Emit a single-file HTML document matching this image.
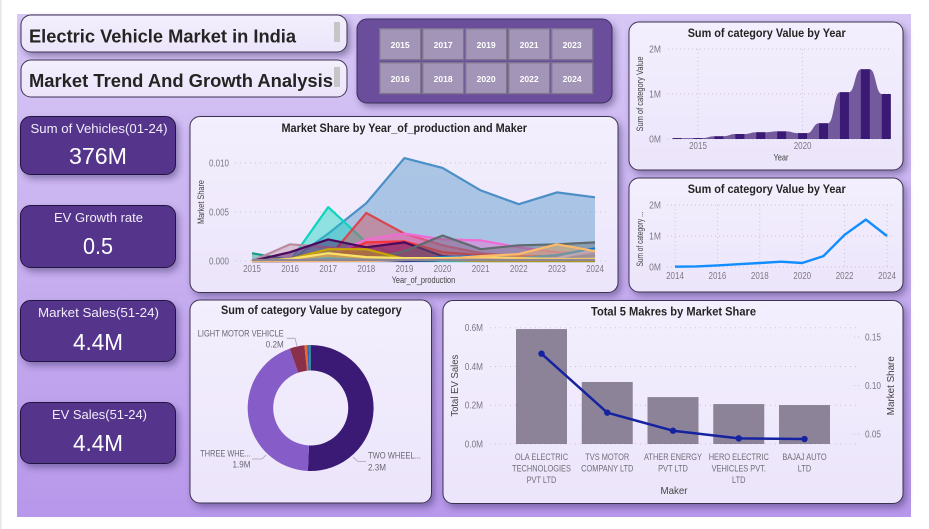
<!DOCTYPE html>
<html lang="en">
<head>
<meta charset="utf-8">
<title>Electric Vehicle Market in India</title>
<style>
  html, body { margin: 0; padding: 0; background: #fff; }
  body { width: 929px; height: 529px; overflow: hidden; }
  svg { display: block; font-family: "Liberation Sans", sans-serif; }
  .chart-title { font-weight: 700; font-size: 12px; fill: #252423; }
  .kpi-label { font-size: 12.5px; fill: #f2edfa; text-anchor: middle; }
  .kpi-value { font-size: 23px; fill: #fff; text-anchor: middle; }
  .slicer-text { font-size: 8.5px; font-weight: 700; fill: #fff; text-anchor: middle; }
  .card { fill: url(#card-fill); stroke: #3c3350; stroke-width: 1; filter: url(#soft-shadow); }
</style>
</head>
<body>
<svg id="dash" width="929" height="529" viewBox="0 0 929 529" xmlns="http://www.w3.org/2000/svg">
  <defs>
    <linearGradient id="bg-fill" x1="0" y1="0" x2="0" y2="1">
      <stop offset="0" stop-color="#d7c7f5"/>
      <stop offset="1" stop-color="#b797ea"/>
    </linearGradient>
    <linearGradient id="card-fill" x1="0" y1="0" x2="0" y2="1">
      <stop offset="0" stop-color="#f3effd"/>
      <stop offset="1" stop-color="#ece5fb"/>
    </linearGradient>
    <filter id="soft-shadow" x="-10%" y="-15%" width="125%" height="135%">
      <feDropShadow dx="3" dy="4" stdDeviation="3.5" flood-color="#3a2a66" flood-opacity="0.45"/>
    </filter>
  </defs>

  <rect x="0" y="0" width="1.5" height="529" fill="#e6e6e6"/>
  <rect x="17" y="14" width="894" height="503" fill="url(#bg-fill)"/>

  <!-- Title cards -->
  <g>
    <rect class="card" x="21" y="15" width="326" height="37" rx="10"/>
    <text x="29" y="42.5" font-size="18" font-weight="700" fill="#252423" textLength="267" lengthAdjust="spacingAndGlyphs">Electric Vehicle Market in India</text>
    <rect x="334" y="22" width="6" height="20" fill="#c6c6c6"/>
  </g>
  <g>
    <rect class="card" x="21" y="60" width="326" height="37" rx="10" style="filter:none"/>
    <text x="29" y="87" font-size="18" font-weight="700" fill="#252423" textLength="304" lengthAdjust="spacingAndGlyphs">Market Trend And Growth Analysis</text>
    <rect x="334" y="67" width="6" height="20" fill="#c6c6c6"/>
  </g>

  <!-- Year slicer -->
  <g>
    <rect x="357" y="19" width="255" height="84" rx="10" fill="#6b4d9b" stroke="#3c2d5c" stroke-width="1" filter="url(#soft-shadow)"/>
    <g id="slicer-buttons"></g>
  </g>

  <!-- KPI cards -->
  <g>
    <rect x="20.5" y="116.5" width="155" height="58" rx="10" fill="#55368c" stroke="#241640" filter="url(#soft-shadow)"/>
    <text class="kpi-label" x="99" y="133" textLength="137" lengthAdjust="spacingAndGlyphs">Sum of Vehicles(01-24)</text>
    <text class="kpi-value" x="98" y="164" textLength="58" lengthAdjust="spacingAndGlyphs">376M</text>
  </g>
  <g>
    <rect x="20.5" y="205.5" width="155" height="62" rx="10" fill="#55368c" stroke="#241640" filter="url(#soft-shadow)"/>
    <text class="kpi-label" x="98.5" y="222" textLength="89" lengthAdjust="spacingAndGlyphs">EV Growth rate</text>
    <text class="kpi-value" x="98" y="254" textLength="30" lengthAdjust="spacingAndGlyphs">0.5</text>
  </g>
  <g>
    <rect x="20.5" y="300.5" width="155" height="61" rx="10" fill="#55368c" stroke="#241640" filter="url(#soft-shadow)"/>
    <text class="kpi-label" x="98.5" y="317" textLength="121" lengthAdjust="spacingAndGlyphs">Market Sales(51-24)</text>
    <text class="kpi-value" x="98" y="350" textLength="50" lengthAdjust="spacingAndGlyphs">4.4M</text>
  </g>
  <g>
    <rect x="20.5" y="402.5" width="155" height="61" rx="10" fill="#55368c" stroke="#241640" filter="url(#soft-shadow)"/>
    <text class="kpi-label" x="99.5" y="419" textLength="95" lengthAdjust="spacingAndGlyphs">EV Sales(51-24)</text>
    <text class="kpi-value" x="98" y="451" textLength="50" lengthAdjust="spacingAndGlyphs">4.4M</text>
  </g>

  <!-- Market share chart -->
  <g id="share-chart">
    <rect class="card" x="190" y="116.5" width="428" height="176" rx="10"/>
    <text class="chart-title" x="281.5" y="132" textLength="245.5" lengthAdjust="spacingAndGlyphs">Market Share by Year_of_production and Maker</text>
    <text x="391.7" y="283" font-size="9" fill="#444" textLength="63.5" lengthAdjust="spacingAndGlyphs">Year_of_production</text>
    <text transform="translate(204 202) rotate(-90)" text-anchor="middle" font-size="9" fill="#444" textLength="44" lengthAdjust="spacingAndGlyphs">Market Share</text>
  </g>

  <!-- Stepped area chart -->
  <g id="step-chart">
    <rect class="card" x="629" y="22" width="274" height="148" rx="10"/>
    <text class="chart-title" x="687.7" y="37" textLength="158" lengthAdjust="spacingAndGlyphs">Sum of category Value by Year</text>
    <text x="781" y="160.5" text-anchor="middle" font-size="9" fill="#444" textLength="15" lengthAdjust="spacingAndGlyphs">Year</text>
    <text transform="translate(643 94) rotate(-90)" text-anchor="middle" font-size="9" fill="#444" textLength="75" lengthAdjust="spacingAndGlyphs">Sum of category Value</text>
  </g>

  <!-- Line chart -->
  <g id="line-chart">
    <rect class="card" x="629" y="178" width="274" height="114" rx="10"/>
    <text class="chart-title" x="687.7" y="193" textLength="158" lengthAdjust="spacingAndGlyphs">Sum of category Value by Year</text>
    <text transform="translate(643 239) rotate(-90)" text-anchor="middle" font-size="9" fill="#444" textLength="55" lengthAdjust="spacingAndGlyphs">Sum of category ...</text>
  </g>

  <!-- Donut chart -->
  <g id="donut-chart">
    <rect class="card" x="190" y="300" width="241.5" height="203" rx="10"/>
    <text class="chart-title" x="221" y="314" textLength="180.7" lengthAdjust="spacingAndGlyphs">Sum of category Value by category</text>
  </g>

  <!-- Combo chart -->
  <g id="combo-chart">
    <rect class="card" x="443" y="300.5" width="460" height="203" rx="10"/>
    <text class="chart-title" x="591" y="315.5" textLength="165" lengthAdjust="spacingAndGlyphs">Total 5 Makres by Market Share</text>
    <text x="674" y="494" text-anchor="middle" font-size="10.5" fill="#444" textLength="27" lengthAdjust="spacingAndGlyphs">Maker</text>
    <text transform="translate(458 385.7) rotate(-90)" text-anchor="middle" font-size="10.5" fill="#444" textLength="62" lengthAdjust="spacingAndGlyphs">Total EV Sales</text>
    <text transform="translate(894 385.7) rotate(-90)" text-anchor="middle" font-size="10.5" fill="#444" textLength="59" lengthAdjust="spacingAndGlyphs">Market Share</text>
  </g>
</svg>

<script>
// ---------- Slicer ----------
const slicerYearsTop = ['2015', '2017', '2019', '2021', '2023'];
const slicerYearsBottom = ['2016', '2018', '2020', '2022', '2024'];

// ---------- Market share by year and maker ----------
const shareYears = [2015, 2016, 2017, 2018, 2019, 2020, 2021, 2022, 2023, 2024];
const shareTicks = [0, 0.005, 0.01];
const shareTickLabels = ['0.000', '0.005', '0.010'];
const shareBlue = [0, 0, 0.0028, 0.0059, 0.0105, 0.0095, 0.0072, 0.0058, 0.0070, 0.0065];
const shareTeal = [0.0008, 0.0001, 0, 0, 0, 0, 0, 0, 0, 0];
const shareAqua = [0, 0, 0.0055, 0.0019, 0.0003, 0, 0, 0, 0, 0];
const shareRed = [0, 0, 0.0003, 0.0049, 0.0028, 0.0016, 0.0008, 0.0005, 0.0004, 0.0006];
const sharePink = [0, 0, 0.0005, 0.0022, 0.0028, 0.0022, 0.0021, 0.0014, 0.0009, 0.0008];
const shareBrightRed = [0, 0, 0.0002, 0.0019, 0.0020, 0.0009, 0.0006, 0.0005, 0.0005, 0.0002];
const shareMauve = [0, 0.0017, 0.0014, 0.0011, 0.0003, 0.0001, 0, 0, 0, 0];
const sharePurple = [0, 0.0009, 0.0022, 0.0014, 0.0019, 0.0005, 0.0002, 0.0001, 0.0002, 0.0006];
const shareGray = [0, 0, 0, 0.0001, 0.0010, 0.0026, 0.0012, 0.0016, 0.0017, 0.0019];
const shareGold = [0, 0.0002, 0.0012, 0.0012, 0.0002, 0.0001, 0, 0, 0, 0];
const shareAzure = [0, 0, 0.0003, 0.0001, 0.0001, 0.0004, 0.0005, 0.0003, 0.0006, 0.0013];
const sharePeri = [0, 0, 0, 0, 0, 0.0001, 0.0001, 0.0001, 0.0003, 0.0011];
const shareNavy = [0, 0, 0.0001, 0.0001, 0, 0.0001, 0.0001, 0.0001, 0.0001, 0.0001];
const shareYellow = [0, 0.0002, 0.0008, 0.0004, 0.0003, 0.0003, 0.0004, 0.0003, 0.0002, 0.0002];
const shareApricot = [0, 0, 0, 0, 0.0001, 0.0002, 0.0005, 0.0007, 0.0017, 0.0010];
const shareBase = [0.0001, 0.0001, 0.0001, 0.0001, 0.0001, 0.0001, 0.0001, 0.0001, 0.0001, 0.0001];

// ---------- Yearly category value (bars over stepped area) ----------
const stepYears = [2014, 2015, 2016, 2017, 2018, 2019, 2020, 2021, 2022, 2023, 2024];
const stepValues = [0.02, 0.02, 0.06, 0.11, 0.15, 0.17, 0.13, 0.35, 1.04, 1.55, 1.0];
const stepTicks = [0, 1, 2];
const stepTickLabels = ['0M', '1M', '2M'];
const stepYearTicks = [2015, 2020];

// ---------- Yearly category value (line) ----------
const lineYears = [2014, 2015, 2016, 2017, 2018, 2019, 2020, 2021, 2022, 2023, 2024];
const lineValues = [0.01, 0.02, 0.05, 0.09, 0.13, 0.17, 0.13, 0.35, 1.04, 1.53, 1.0];
const lineTicks = [0, 1, 2];
const lineTickLabels = ['0M', '1M', '2M'];
const lineYearTicks = [2014, 2016, 2018, 2020, 2022, 2024];

// ---------- Category donut ----------
const donutCategories = ['TWO WHEELER', 'THREE WHEELER', 'LIGHT MOTOR VEHICLE', 'OTHER A', 'OTHER B', 'OTHER C'];
const donutValues = [2.30, 1.99, 0.173, 0.03, 0.02, 0.022];

// ---------- Top five makers ----------
const makerNames = ['OLA ELECTRIC TECHNOLOGIES PVT LTD', 'TVS MOTOR COMPANY LTD', 'ATHER ENERGY PVT LTD', 'HERO ELECTRIC VEHICLES PVT. LTD', 'BAJAJ AUTO LTD'];
const makerLabelLines = [
  ['OLA ELECTRIC', 'TECHNOLOGIES', 'PVT LTD'],
  ['TVS MOTOR', 'COMPANY LTD'],
  ['ATHER ENERGY', 'PVT LTD'],
  ['HERO ELECTRIC', 'VEHICLES PVT.', 'LTD'],
  ['BAJAJ AUTO', 'LTD']
];
const makerSales = [0.593, 0.32, 0.242, 0.206, 0.201];
const makerShare = [0.1328, 0.072, 0.0534, 0.0455, 0.0448];
const salesTicks = [0, 0.2, 0.4, 0.6];
const salesTickLabels = ['0.0M', '0.2M', '0.4M', '0.6M'];
const shareAxisTicks = [0.05, 0.10, 0.15];
const shareAxisLabels = ['0.05', '0.10', '0.15'];

// ---------- Helpers ----------
const NS = 'http://www.w3.org/2000/svg';
function mk(parent, tag, attrs, text) {
  const el = document.createElementNS(NS, tag);
  for (const k in attrs) el.setAttribute(k, attrs[k]);
  if (text !== undefined) el.textContent = text;
  parent.appendChild(el);
  return el;
}
function linear(d0, d1, r0, r1) {
  return function (v) { return r0 + (v - d0) / (d1 - d0) * (r1 - r0); };
}
// The reference face is narrower than Liberation Sans, so condense the glyphs.
function condense(el, factor) {
  const w = el.getComputedTextLength();
  el.setAttribute('textLength', (w * factor).toFixed(2));
  el.setAttribute('lengthAdjust', 'spacingAndGlyphs');
}
const TICK = '#7d7885';
const GRID = '#c9c3d6';

// ---------- Slicer ----------
const slicerRoot = document.getElementById('slicer-buttons');
[slicerYearsTop, slicerYearsBottom].forEach(function (row, r) {
  row.forEach(function (label, i) {
    const left = 379 + i * 43;
    const top = 28 + r * 34;
    const g = mk(slicerRoot, 'g', {});
    
    
    const box = mk(g, 'rect', { x: left + 0.7, y: top + 0.7, width: 41, height: 31, fill: '#a295b7', stroke: '#7f748f', 'stroke-width': 1.4 });
    
    
    const t = mk(g, 'text', { x: left + 21.2, y: top + 20, class: 'slicer-text', textLength: 19, lengthAdjust: 'spacingAndGlyphs' }, label);
    
    
  });
});

// ---------- Market share chart ----------
(function () {
  const root = document.getElementById('share-chart');
  const x = linear(2015, 2024, 252, 595);
  const y = linear(0, 0.01, 261, 163);
  shareTicks.forEach(function (t, i) {
    const line = mk(root, 'line', { x1: 235, x2: 610, y1: y(t), y2: y(t), stroke: GRID, 'stroke-width': 1, 'stroke-dasharray': '1 4' });
    
    
    const lab = mk(root, 'text', { x: 229, y: y(t) + 3.5, 'text-anchor': 'end', 'font-size': 10, fill: TICK }, shareTickLabels[i]);
    
    
    condense(lab, 0.8);
  });
  shareYears.forEach(function (yr) {
    const lab = mk(root, 'text', { x: x(yr), y: 272, 'text-anchor': 'middle', 'font-size': 10, fill: TICK }, String(yr));
    
    
    condense(lab, 0.8);
  });
  const seriesList = [
    { name: 'blue', values: shareBlue, color: '#4a8fc6' },
    { name: 'teal', values: shareTeal, color: '#169a85' },
    { name: 'aqua', values: shareAqua, color: '#0bd6bd' },
    { name: 'red', values: shareRed, color: '#d8474f' },
    { name: 'pink', values: sharePink, color: '#f06ad2' },
    { name: 'bright-red', values: shareBrightRed, color: '#f5333f' },
    { name: 'mauve', values: shareMauve, color: '#b98aa0' },
    { name: 'purple', values: sharePurple, color: '#4a0a5e' },
    { name: 'gray', values: shareGray, color: '#5f6b6d' },
    { name: 'gold', values: shareGold, color: '#c9a400' },
    { name: 'azure', values: shareAzure, color: '#0a7ad0' },
    { name: 'periwinkle', values: sharePeri, color: '#8f9af0' },
    { name: 'navy', values: shareNavy, color: '#1d2a8c' },
    { name: 'yellow', values: shareYellow, color: '#fce26b' },
    { name: 'apricot', values: shareApricot, color: '#fdbb6a' },
    { name: 'base', values: shareBase, color: '#8e8694' }
  ];
  seriesList.forEach(function (s) {
    const pts = s.values.map(function (v, i) { return x(shareYears[i]).toFixed(1) + ',' + y(v).toFixed(1); });
    const area = mk(root, 'polygon', {
      points: x(shareYears[0]) + ',' + y(0) + ' ' + pts.join(' ') + ' ' + x(shareYears[shareYears.length - 1]) + ',' + y(0),
      fill: s.color, 'fill-opacity': 0.42
    });
    
    
    const line = mk(root, 'polyline', { points: pts.join(' '), fill: 'none', stroke: s.color, 'stroke-width': 2.2, 'stroke-linejoin': 'round' });
    
    
  });
})();

// ---------- Bars over stepped area ----------
(function () {
  const root = document.getElementById('step-chart');
  const x = linear(2015, 2020, 698, 802.6);
  const y = linear(0, 2, 139, 49);
  const w = 9;
  stepYearTicks.forEach(function (yr) {
    const line = mk(root, 'line', { x1: x(yr), x2: x(yr), y1: 49, y2: 139, stroke: GRID, 'stroke-dasharray': '1 3' });
    
    
    const lab = mk(root, 'text', { x: x(yr), y: 149, 'text-anchor': 'middle', 'font-size': 10, fill: TICK }, String(yr));
    
    
    condense(lab, 0.8);
  });
  stepTicks.forEach(function (t, i) {
    const line = mk(root, 'line', { x1: 668, x2: 892, y1: y(t), y2: y(t), stroke: GRID, 'stroke-dasharray': '1 3' });
    
    
    const lab = mk(root, 'text', { x: 661, y: y(t) + 3.5, 'text-anchor': 'end', 'font-size': 10, fill: TICK }, stepTickLabels[i]);
    
    
    condense(lab, 0.85);
  });
  let d = 'M' + (x(stepYears[0]) - w / 2) + ' ' + y(0) + ' L' + (x(stepYears[0]) - w / 2) + ' ' + y(stepValues[0]);
  stepValues.forEach(function (v, i) {
    const cx = x(stepYears[i]);
    d += ' L' + (cx + w / 2) + ' ' + y(v);
    if (i < stepValues.length - 1) {
      const nx = x(stepYears[i + 1]) - w / 2;
      const sx = cx + w / 2;
      const mid = (sx + nx) / 2;
      d += ' C' + mid + ' ' + y(v) + ' ' + mid + ' ' + y(stepValues[i + 1]) + ' ' + nx + ' ' + y(stepValues[i + 1]);
    }
  });
  d += ' L' + (x(stepYears[stepYears.length - 1]) + w / 2) + ' ' + y(0) + ' Z';
  const area = mk(root, 'path', { d: d, fill: '#725a9c' });
  
  
  stepValues.forEach(function (v, i) {
    const bar = mk(root, 'rect', { x: x(stepYears[i]) - w / 2, y: y(v), width: w, height: y(0) - y(v), fill: '#3b1a75' });
    
    
  });
})();

// ---------- Line chart ----------
(function () {
  const root = document.getElementById('line-chart');
  const x = linear(2014, 2024, 675, 887);
  const y = linear(0, 2, 267, 205);
  lineYearTicks.forEach(function (yr) {
    const line = mk(root, 'line', { x1: x(yr), x2: x(yr), y1: 205, y2: 267, stroke: GRID, 'stroke-dasharray': '1 3' });
    
    
    const lab = mk(root, 'text', { x: x(yr), y: 279, 'text-anchor': 'middle', 'font-size': 10, fill: TICK }, String(yr));
    
    
    condense(lab, 0.8);
  });
  lineTicks.forEach(function (t, i) {
    const line = mk(root, 'line', { x1: 667, x2: 892, y1: y(t), y2: y(t), stroke: GRID, 'stroke-dasharray': '1 3' });
    
    
    const lab = mk(root, 'text', { x: 661, y: y(t) + 3.5, 'text-anchor': 'end', 'font-size': 10, fill: TICK }, lineTickLabels[i]);
    
    
    condense(lab, 0.85);
  });
  const pts = lineValues.map(function (v, i) { return x(lineYears[i]).toFixed(1) + ',' + y(v).toFixed(1); }).join(' ');
  const path = mk(root, 'polyline', { points: pts, fill: 'none', stroke: '#118dff', 'stroke-width': 2.4, 'stroke-linejoin': 'round' });
  
  
})();

// ---------- Donut ----------
(function () {
  const root = document.getElementById('donut-chart');
  const cx = 310.7, cy = 408, R = 63, r = 37.5;
  const colors = ['#3b1a75', '#855cc8', '#8a2f4c', '#e8672c', '#2a62b8', '#1f8f9a'];
  const total = donutValues.reduce(function (a, b) { return a + b; }, 0);
  let acc = 0;
  donutValues.forEach(function (v, i) {
    const a0 = acc / total * 2 * Math.PI;
    acc += v;
    const a1 = acc / total * 2 * Math.PI;
    const large = a1 - a0 > Math.PI ? 1 : 0;
    const p = function (rad, a) { return (cx + rad * Math.sin(a)).toFixed(2) + ' ' + (cy - rad * Math.cos(a)).toFixed(2); };
    const d = 'M' + p(R, a0) + ' A' + R + ' ' + R + ' 0 ' + large + ' 1 ' + p(R, a1) +
              ' L' + p(r, a1) + ' A' + r + ' ' + r + ' 0 ' + large + ' 0 ' + p(r, a0) + ' Z';
    const slice = mk(root, 'path', { d: d, fill: colors[i] });
    
    
  });
  const labels = [
    { name: 'light-motor', a: 'LIGHT MOTOR VEHICLE', b: '0.2M', ax: 197.7, ay: 336.7, al: 86, bx: 283.7, by: 347.7, anchor: 'end', leader: '286.7,338.3 295,338.3 297,346' },
    { name: 'three-wheeler', a: 'THREE WHE...', b: '1.9M', ax: 200.3, ay: 456.7, al: 50.4, bx: 250.5, by: 467.7, anchor: 'end', leader: '252,459 262,459 266,455' },
    { name: 'two-wheeler', a: 'TWO WHEEL...', b: '2.3M', ax: 368, ay: 458.7, al: 53, bx: 368, by: 470.7, anchor: 'start', leader: '353,457 358,461.5 366,461.5' }
  ];
  labels.forEach(function (l) {
    const lead = mk(root, 'polyline', { points: l.leader, fill: 'none', stroke: '#a9a3b3', 'stroke-width': 0.8 });
    
    
    const t1 = mk(root, 'text', { x: l.ax, y: l.ay, 'font-size': 9.5, fill: '#6b6672', textLength: l.al, lengthAdjust: 'spacingAndGlyphs' }, l.a);
    
    
    const t2 = mk(root, 'text', { x: l.bx, y: l.by, 'font-size': 9.5, fill: '#6b6672', 'text-anchor': l.anchor }, l.b);
    
    
    condense(t2, 0.85);
  });
})();

// ---------- Combo ----------
(function () {
  const root = document.getElementById('combo-chart');
  const yL = linear(0, 0.6, 444, 327.7);
  const yR = linear(0.05, 0.15, 434, 337);
  const band = function (i) { return 541.5 + i * (804.5 - 541.5) / (makerNames.length - 1); };
  const barW = 51;
  salesTicks.forEach(function (t, i) {
    const line = mk(root, 'line', { x1: 490, x2: 857, y1: yL(t), y2: yL(t), stroke: GRID, 'stroke-dasharray': '1 4' });
    
    
    const lab = mk(root, 'text', { x: 483, y: yL(t) + 3.5, 'text-anchor': 'end', 'font-size': 10, fill: TICK }, salesTickLabels[i]);
    
    
    condense(lab, 0.82);
  });
  shareAxisTicks.forEach(function (t, i) {
    const line = mk(root, 'line', { x1: 854, x2: 860, y1: yR(t), y2: yR(t), stroke: GRID, 'stroke-dasharray': '1 3' });
    
    
    const lab = mk(root, 'text', { x: 865, y: yR(t) + 3.5, 'font-size': 10, fill: TICK }, shareAxisLabels[i]);
    
    
    condense(lab, 0.82);
  });
  makerSales.forEach(function (v, i) {
    const bar = mk(root, 'rect', { x: band(i) - barW / 2, y: yL(v), width: barW, height: yL(0) - yL(v), fill: '#8d8399' });
    
    
    makerLabelLines[i].forEach(function (txt, j) {
      const lab = mk(root, 'text', { x: band(i), y: 460 + j * 11.5, 'text-anchor': 'middle', 'font-size': 9.5, fill: '#716c78' }, txt);
      
      
      condense(lab, 0.78);
    });
  });
  const pts = makerShare.map(function (v, i) { return band(i).toFixed(1) + ',' + yR(v).toFixed(1); }).join(' ');
  const line = mk(root, 'polyline', { points: pts, fill: 'none', stroke: '#1523a0', 'stroke-width': 2.5, 'stroke-linejoin': 'round' });
  
  
  makerShare.forEach(function (v, i) {
    const dot = mk(root, 'circle', { cx: band(i), cy: yR(v), r: 3.2, fill: '#1523a0' });
    
    
  });
})();
</script>
</body>
</html>
